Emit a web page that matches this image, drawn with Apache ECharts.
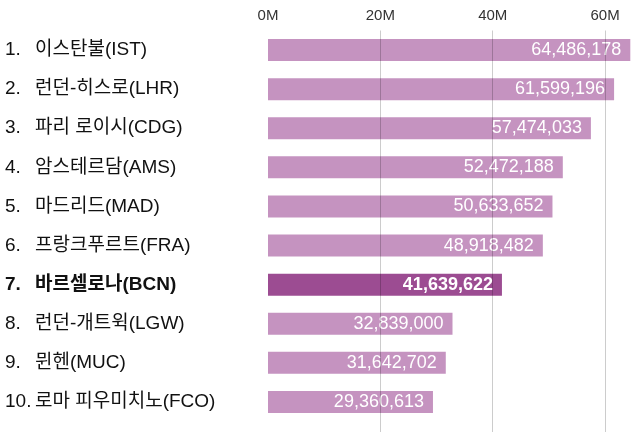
<!DOCTYPE html>
<html>
<head>
    <meta charset="utf-8">
    <title>공항 여객 수</title>
    <style>
        html, body { margin: 0; padding: 0; background: #fff; }
        #charts { width: 636px; height: 432px; }
    </style>
</head>
<body>
  <div id="charts"></div>
<script src="https://cdn.jsdelivr.net/npm/echarts@6/dist/echarts.min.js"></script>
<script type="text/javascript">

var airports = ['이스탄불(IST)', '런던-히스로(LHR)', '파리 로이시(CDG)', '암스테르담(AMS)', '마드리드(MAD)',
                '프랑크푸르트(FRA)', '바르셀로나(BCN)', '런던-개트윅(LGW)', '뮌헨(MUC)', '로마 피우미치노(FCO)'];
var passengers = [64486178, 61599196, 57474033, 52472188, 50633652,
                  48918482, 41639622, 32839000, 31642702, 29360613];
var highlight = 6;   // 바르셀로나
var tickStep = 20000000;
var axisMax = 65500000;

var font = 'Liberation Sans, Noto Sans CJK KR, sans-serif';
var light = '#c593c0';
var dark = '#9c4c92';

var myChart = echarts.init(document.getElementById('charts'));

var barData = [];
for (var i = 0; i < passengers.length; i++) {
    var item = { value: passengers[i], itemStyle: { color: i == highlight ? dark : light } };
    if (i == highlight) {
        item.label = { fontWeight: 'bold' };
    }
    barData.push(item);
}

var option = {
    animation: false,
    textStyle: { fontFamily: font },
    grid: [
        { left: 268, right: 0, top: 30.5, height: 391 },
        // 세로 격자선만 아래 끝까지 그리는 grid
        { left: 268, right: 0, top: 30.5, bottom: 0 }
    ],
    xAxis: [
        {
            type: 'value',
            position: 'top',
            min: 0,
            max: axisMax,
            interval: tickStep,
            axisLine: { show: false },
            axisTick: { show: false },
            splitLine: { show: false },
            axisLabel: {
                margin: 7,
                fontSize: 15,
                color: '#333',
                fontFamily: font,
                showMaxLabel: false,
                formatter: function (v) { return (v / 1000000) + 'M'; }
            }
        },
        {
            type: 'value',
            gridIndex: 1,
            min: 0,
            max: axisMax,
            interval: tickStep,
            z: 10,
            axisLine: { show: false },
            axisTick: { show: false },
            axisLabel: { show: false },
            splitLine: {
                show: true,
                showMinLine: false,
                showMaxLine: false,
                lineStyle: { color: 'rgba(0,0,0,0.2)', width: 1 }
            }
        }
    ],
    yAxis: [
        {
            type: 'category',
            inverse: true,
            data: airports,
            axisLine: { show: false },
            axisTick: { show: false },
            splitLine: { show: false },
            axisLabel: {
                align: 'left',
                margin: 263,
                formatter: function (v, idx) {
                    if (idx == highlight) {
                        return '{nb|' + (idx + 1) + '.}{tb|' + v + '}';
                    }
                    return '{n|' + (idx + 1) + '.}{t|' + v + '}';
                },
                rich: {
                    n:  { width: 30, fontSize: 19, color: '#111', fontFamily: font },
                    t:  { fontSize: 19, color: '#111', fontFamily: font },
                    nb: { width: 30, fontSize: 19, color: '#111', fontFamily: font, fontWeight: 'bold' },
                    tb: { fontSize: 19, color: '#111', fontFamily: font, fontWeight: 'bold' }
                }
            }
        },
        {
            type: 'value',
            gridIndex: 1,
            show: false
        }
    ],
    series: [
        {
            type: 'bar',
            data: barData,
            barWidth: 22,
            z: 2,
            label: {
                show: true,
                position: 'insideRight',
                distance: 9,
                color: '#fff',
                fontSize: 18,
                fontFamily: font,
                formatter: function (p) { return p.value.toLocaleString('en-US'); }
            }
        }
    ]
};

myChart.setOption(option);
</script>
</body>
</html>
